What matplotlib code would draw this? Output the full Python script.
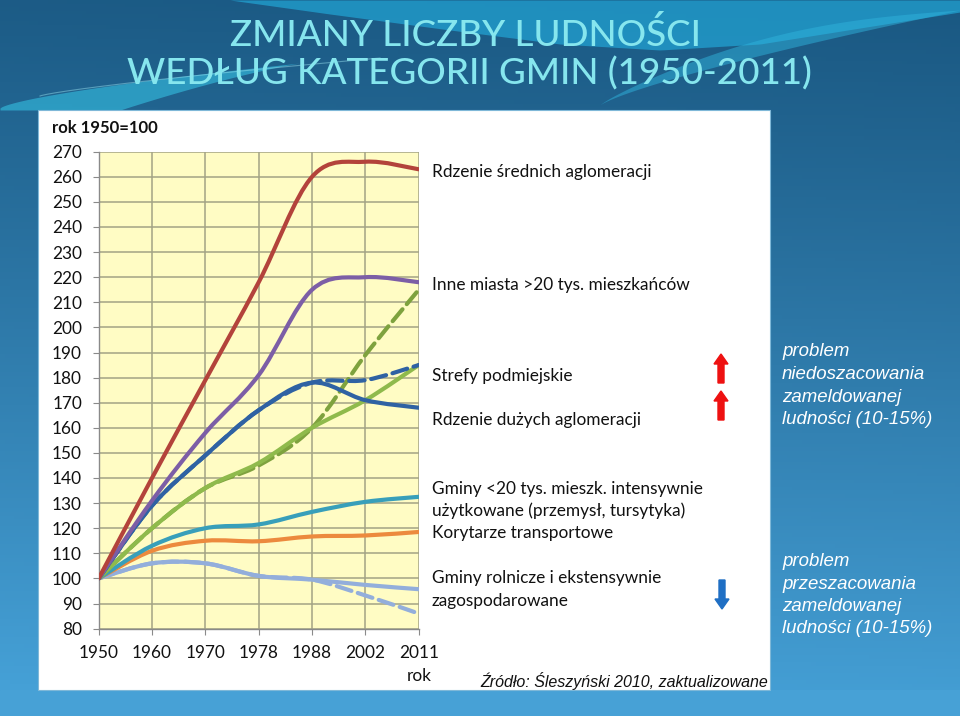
import numpy as np
import matplotlib
matplotlib.use("Agg")
import matplotlib.pyplot as plt
from matplotlib.path import Path
from matplotlib.patches import PathPatch, Rectangle, FancyArrow

# ---------------- data ----------------
years = ["1950", "1960", "1970", "1978", "1988", "2002", "2011"]
y_ticks = list(range(80, 271, 10))

rdzenie_srednich = [100, 140, 179, 218, 260, 266, 263]
inne_miasta = [100, 131, 158, 181, 215, 220, 218]
rdzenie_duzych = [100, 129, 149, 167, 178, 171, 168]
rdzenie_duzych_est = [100, 129, 149, 167, 178, 179, 185]
strefy = [100, 120, 136, 146, 160, 171, 185]
strefy_est = [100, 120, 136, 145, 160, 189, 215]
gminy_intens = [100, 113, 120, 121.5, 126.5, 130.5, 132.5]
korytarze = [100, 111, 115, 114.8, 116.7, 117.1, 118.5]
gminy_rolnicze = [100, 106, 106, 101, 99.5, 97.4, 95.7]
gminy_rolnicze_est = [100, 106, 106, 101, 99.5, 93.2, 86]

series = [
    (gminy_rolnicze_est, "#93aedb", "--"),
    (gminy_rolnicze, "#93aedb", "-"),
    (korytarze, "#ec8a3e", "-"),
    (gminy_intens, "#389fba", "-"),
    (strefy_est, "#7ea23e", "--"),
    (strefy, "#8fba4c", "-"),
    (rdzenie_duzych_est, "#2f62a3", "--"),
    (rdzenie_duzych, "#2f62a3", "-"),
    (inne_miasta, "#7c5ea6", "-"),
    (rdzenie_srednich, "#b3433b", "-"),
]

labels = [
    ("Rdzenie średnich aglomeracji", 172),
    ("Inne miasta >20 tys. mieszkańców", 285),
    ("Strefy podmiejskie", 376),
    ("Rdzenie dużych aglomeracji", 420),
    ("Gminy <20 tys. mieszk. intensywnie", 489),
    ("użytkowane (przemysł, tursytyka)", 511),
    ("Korytarze transportowe", 533),
    ("Gminy rolnicze i ekstensywnie", 578),
    ("zagospodarowane", 601),
]

note_up = ["problem", "niedoszacowania", "zameldowanej", "ludności (10-15%)"]
note_down = ["problem", "przeszacowania", "zameldowanej", "ludności (10-15%)"]

W, H = 960, 716
fig = plt.figure(figsize=(W / 100, H / 100), dpi=100)

# ---------------- background ----------------
bg = fig.add_axes([0, 0, 1, 1], zorder=0)
bg.set_xlim(0, W)
bg.set_ylim(H, 0)
bg.axis("off")

yy = np.linspace(0, 1, 200)[:, None]
xx = np.linspace(0, 1, 200)[None, :]
top = np.array([0x1a, 0x58, 0x82]) / 255
bot = np.array([0x45, 0xa0, 0xd6]) / 255
t = np.clip(yy ** 1.1 + 0.05 * (1 - xx), 0, 1)
grad = top[None, None, :] * (1 - t[..., None]) + bot[None, None, :] * t[..., None]
bg.imshow(grad, extent=[0, W, H, 0], aspect="auto", zorder=0)

# swooshes in title area (tapered bands)
sx = np.array([230, 330, 450, 560, 660, 760, 860, 960])
sy = np.array([0, 14, 30, 44, 50, 44, 28, 12])
fx = np.linspace(230, 960, 200)
bg.fill_between(fx, 0, np.interp(fx, sx, sy), color="#22a6d6", alpha=0.7, lw=0, zorder=1)

u = np.linspace(0, 1, 200)
rx = 600 + 360 * u
ry = 105 - 95 * u ** 0.8
thick = 16 * np.sin(np.pi * u)
bg.fill_between(rx, ry - thick, ry, color="#2fb3dc", alpha=0.5, lw=0, zorder=1)

lx = 0 + 300 * u
ly = 108 - 45 * u ** 0.7
lthick = 50 * (1 - u) ** 1.3
bg.fill_between(lx, ly, np.minimum(ly + lthick, 110), color="#35c0e2", alpha=0.6, lw=0, zorder=1)
bg.plot(40 + 340 * u, 96 - 38 * u ** 0.8, color="#9ee8f4", lw=0.8, alpha=0.45, zorder=1)

# bottom band
bg.add_patch(Rectangle((0, 690), W, 26, color="#47a1d6", zorder=1))

# title
title_kw = dict(color="#86e6ee", ha="center", va="center", fontsize=26.5,
                fontweight="medium", family=["Lato", "DejaVu Sans"], zorder=3)
bg.text(465, 35, "ZMIANY LICZBY LUDNOŚCI", **title_kw)
bg.text(469, 73, "WEDŁUG KATEGORII GMIN (1950-2011)", **title_kw)

# white panel
bg.add_patch(Rectangle((38, 110), 732, 580, facecolor="white", edgecolor="#7fb8d8", lw=0.8, zorder=2))

# labels next to chart
for txt, y in labels:
    bg.text(432, y, txt, ha="left", va="center", fontsize=12.4,
            family=["Lato", "DejaVu Sans"], color="#111111", zorder=3)

bg.text(52, 128, "rok 1950=100", ha="left", va="center", fontsize=12,
        fontweight="bold", family=["Lato", "DejaVu Sans"], color="#111111", zorder=3)
bg.text(419, 676, "rok", ha="center", va="center", fontsize=12.4,
        family=["Lato", "DejaVu Sans"], color="#111111", zorder=3)
bg.text(768, 681, "Źródło: Śleszyński 2010, zaktualizowane", ha="right", va="center",
        fontsize=11.5, style="italic", family=["Liberation Sans", "DejaVu Sans"],
        color="#111111", zorder=3)

# arrows
def arrow(x, y0, y1, color):
    bg.add_patch(FancyArrow(x, y0, 0, y1 - y0, width=6, head_width=14, head_length=10,
                            length_includes_head=True, color=color, zorder=3))

arrow(721, 383, 354, "#ee1111")
arrow(721, 420, 391, "#ee1111")
arrow(722, 580, 609, "#1f6fc4")

# notes
note_kw = dict(ha="left", va="center", fontsize=13.4, style="italic",
               family=["Liberation Sans", "DejaVu Sans"], color="white", zorder=3)
for i, line in enumerate(note_up):
    bg.text(782, 352 + i * 22.5, line, **note_kw)
for i, line in enumerate(note_down):
    bg.text(782, 562 + i * 22.3, line, **note_kw)

# ---------------- main chart ----------------
ax_l, ax_r = 98.7, 418.7
ax_t, ax_b = 151.7, 628.6
ax = fig.add_axes([ax_l / W, 1 - ax_b / H, (ax_r - ax_l) / W, (ax_b - ax_t) / H], zorder=5)
ax.set_facecolor("#fffcc4")
ax.set_xlim(0, len(years) - 1)
ax.set_ylim(80, 270)
ax.set_xticks(range(len(years)))
ax.set_xticklabels(years)
ax.set_yticks(y_ticks)
ax.set_yticklabels([str(v) for v in y_ticks])
ax.grid(True, color="#a3a385", lw=1.1)
ax.set_axisbelow(True)
for s in ["top", "right"]:
    ax.spines[s].set_visible(False)
for s in ["left", "bottom"]:
    ax.spines[s].set_color("#8a8a8a")
    ax.spines[s].set_linewidth(1.0)
ax.tick_params(axis="both", direction="out", length=4, color="#8a8a8a",
               labelsize=12.4, labelcolor="#111111")
ax.tick_params(axis="x", pad=8)
ax.tick_params(axis="y", pad=8)
for lab in ax.get_xticklabels() + ax.get_yticklabels():
    lab.set_family(["Lato", "DejaVu Sans"])


def smooth_path(xv, yv):
    pts = np.column_stack([xv, yv]).astype(float)
    n = len(pts)
    verts = [pts[0]]
    codes = [Path.MOVETO]
    for i in range(n - 1):
        p0 = pts[i - 1] if i > 0 else pts[i]
        p1, p2 = pts[i], pts[i + 1]
        p3 = pts[i + 2] if i + 2 < n else pts[i + 1]
        verts += [p1 + (p2 - p0) / 6, p2 - (p3 - p1) / 6, p2]
        codes += [Path.CURVE4] * 3
    return Path(verts, codes)


xidx = np.arange(len(years))
for vals, col, ls in series:
    ax.add_patch(PathPatch(smooth_path(xidx, vals), fill=False, edgecolor=col, lw=3.0,
                           linestyle=ls, capstyle="round", joinstyle="round", zorder=3))

fig.savefig("out.png", dpi=100)
